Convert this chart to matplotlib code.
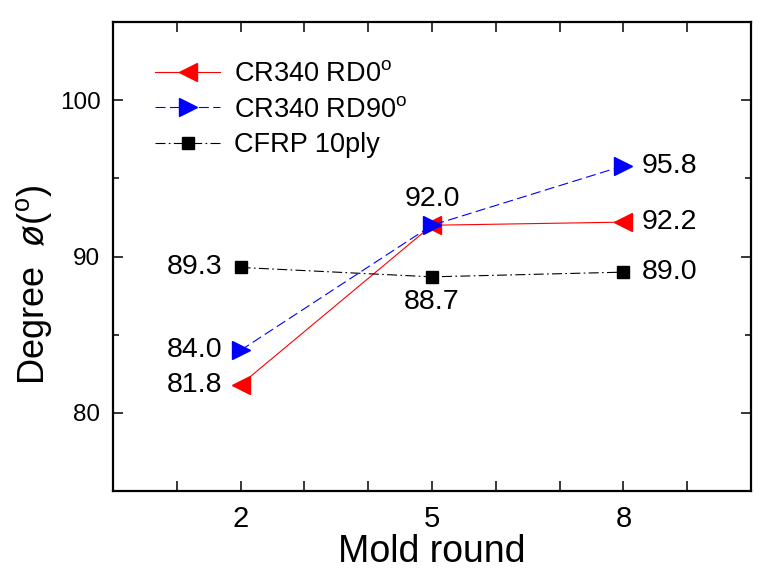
import matplotlib
matplotlib.use('Agg')
import matplotlib.pyplot as plt
from matplotlib.ticker import FixedLocator

plt.rcParams['font.family'] = ['Liberation Sans', 'DejaVu Sans']
plt.rcParams['mathtext.fontset'] = 'custom'
plt.rcParams['mathtext.rm'] = 'Liberation Sans'
plt.rcParams['mathtext.it'] = 'Liberation Sans:italic'

# data
rounds = [2, 5, 8]
cr340_rd0 = [81.8, 92.0, 92.2]
cr340_rd90 = [84.0, 92.0, 95.8]
cfrp_10ply = [89.3, 88.7, 89.0]

names = ['CR340 RD0$^{\\rm o}$', 'CR340 RD90$^{\\rm o}$', 'CFRP 10ply']
x_ticks = [2, 5, 8]
y_ticks = [80, 90, 100]

fig = plt.figure(figsize=(7.76, 5.78), dpi=100)
ax = fig.add_axes([0.1456, 0.1505, 0.8222, 0.8114])

ax.plot(rounds, cr340_rd0, color='red', lw=0.8, ls='-', marker='<',
        ms=13, mec='red', mfc='red', label=names[0], zorder=3)
ax.plot(rounds, cr340_rd90, color='blue', lw=0.8, ls=(0, (9, 4)), marker='>',
        ms=13, mec='blue', mfc='blue', label=names[1], zorder=4)
ax.plot(rounds, cfrp_10ply, color='black', lw=0.8, ls=(0, (9, 3, 1.5, 3)), marker='s',
        ms=9, mec='black', mfc='black', label=names[2], zorder=3)

# value labels: left of x=2, right of x=8, above/below at x=5
def side_labels(vals, mid):
    for i, v in enumerate(vals):
        if i == 0:
            ax.annotate('%.1f' % v, (rounds[i], v), xytext=(-13, 0), textcoords='offset points',
                        ha='right', va='center', fontsize=20.5)
        elif i == 2:
            ax.annotate('%.1f' % v, (rounds[i], v), xytext=(13, 0), textcoords='offset points',
                        ha='left', va='center', fontsize=20.5)
        elif mid is not None:
            ax.annotate('%.1f' % v, (rounds[i], v), xytext=(0, mid), textcoords='offset points',
                        ha='center', va='center', fontsize=20.5)

side_labels(cr340_rd0, None)
side_labels(cr340_rd90, 19)
side_labels(cfrp_10ply, -18)

ax.set_xlim(0, 10)
ax.set_ylim(75, 105)
ax.set_xticks(x_ticks)
ax.xaxis.set_minor_locator(FixedLocator([1, 3, 4, 6, 7, 9]))
ax.set_yticks(y_ticks)
ax.yaxis.set_minor_locator(FixedLocator([85, 95]))

ax.tick_params(axis='x', which='both', direction='in', top=True, length=7, width=1.1,
               labelsize=21, pad=10)
ax.tick_params(axis='y', which='major', direction='in', right=True, length=7, width=1.1,
               labelsize=17.5, pad=9)
ax.tick_params(axis='y', which='minor', direction='in', right=True, length=4.5, width=1.1)
for s in ax.spines.values():
    s.set_linewidth(1.6)

ax.set_xlabel('Mold round', fontsize=27, labelpad=1)
ax.set_ylabel('Degree  $\\it{\u00f8}$($^{\\rm o}$)', fontsize=26)
ax.yaxis.set_label_coords(-0.092, 0.44)

ax.legend(loc='upper left', bbox_to_anchor=(0.045, 0.945), frameon=False, fontsize=19.5,
          handlelength=2.4, handletextpad=0.5, labelspacing=0.35, borderpad=0)

fig.savefig('out.png', dpi=100)
